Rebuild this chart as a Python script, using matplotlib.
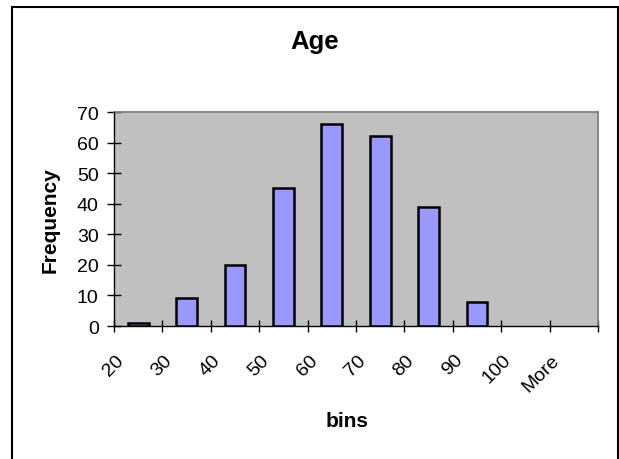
import matplotlib
matplotlib.use("Agg")
import matplotlib.pyplot as plt
import matplotlib.transforms as mtransforms
from matplotlib.patches import Rectangle

plt.rcParams['font.family'] = ['Liberation Sans', 'DejaVu Sans']

bins = ["20", "30", "40", "50", "60", "70", "80", "90", "100", "More"]
frequency = [1, 9, 20, 45, 66, 62, 39, 8, 0, 0]
yticks = [0, 10, 20, 30, 40, 50, 60, 70]

fig = plt.figure(figsize=(6.19, 4.60), dpi=100)
fig.patches.append(Rectangle((11.5/619, -0.1), 606.5/619, (460-7.5)/460 + 0.1,
                             transform=fig.transFigure, fill=False,
                             edgecolor='black', linewidth=1.5, zorder=0))

ax = fig.add_axes([114/619, 1-327/460, (598-114)/619, (327-113)/460])
ax.set_facecolor('#C0C0C0')
x = list(range(len(bins)))
bars = ax.bar(x, frequency, width=0.43, color='#9999FF', edgecolor='black',
              linewidth=1.8, zorder=3)
for b, v in zip(bars, frequency):
    if v == 0:
        b.set_visible(False)

ax.set_xlim(-0.5, len(bins) - 0.5)
ax.set_ylim(0, 70)

for s in ['top', 'right']:
    ax.spines[s].set_color('#808080')
    ax.spines[s].set_linewidth(1.3)
for s in ['left', 'bottom']:
    ax.spines[s].set_color('black')
    ax.spines[s].set_linewidth(1.0)
ax.spines['left'].set_zorder(4)

ax.set_yticks(yticks)
ax.set_yticklabels([str(v) for v in yticks], fontsize=14)
ax.tick_params(axis='y', direction='inout', length=10, width=1, pad=6)

# boundary ticks
ax.set_xticks([i - 0.5 for i in range(len(bins) + 1)], minor=True)
ax.tick_params(axis='x', which='minor', direction='inout', length=9, width=1)
ax.set_xticks(x)
ax.set_xticklabels(bins, fontsize=14, rotation=45, ha='right', va='top',
                   rotation_mode='default')
ax.tick_params(axis='x', which='major', length=0, pad=18)
offset = mtransforms.ScaledTranslation(-11/100, 0, fig.dpi_scale_trans)
for lbl in ax.get_xticklabels():
    lbl.set_transform(lbl.get_transform() + offset)

ax.set_ylabel('Frequency', fontsize=15, fontweight='bold')
ax.yaxis.set_label_coords((50-114)/484, 0.5)
ax.set_xlabel('bins', fontsize=15, fontweight='bold')
ax.xaxis.set_label_coords((347-114)/484, (327-422)/214)
ax.xaxis.label.set_va('center')
ax.yaxis.label.set_va('center')
fig.text(315/619, 1-42/460, 'Age', fontsize=18.5, fontweight='bold',
         ha='center', va='center')

fig.savefig('out.png', dpi=100)
